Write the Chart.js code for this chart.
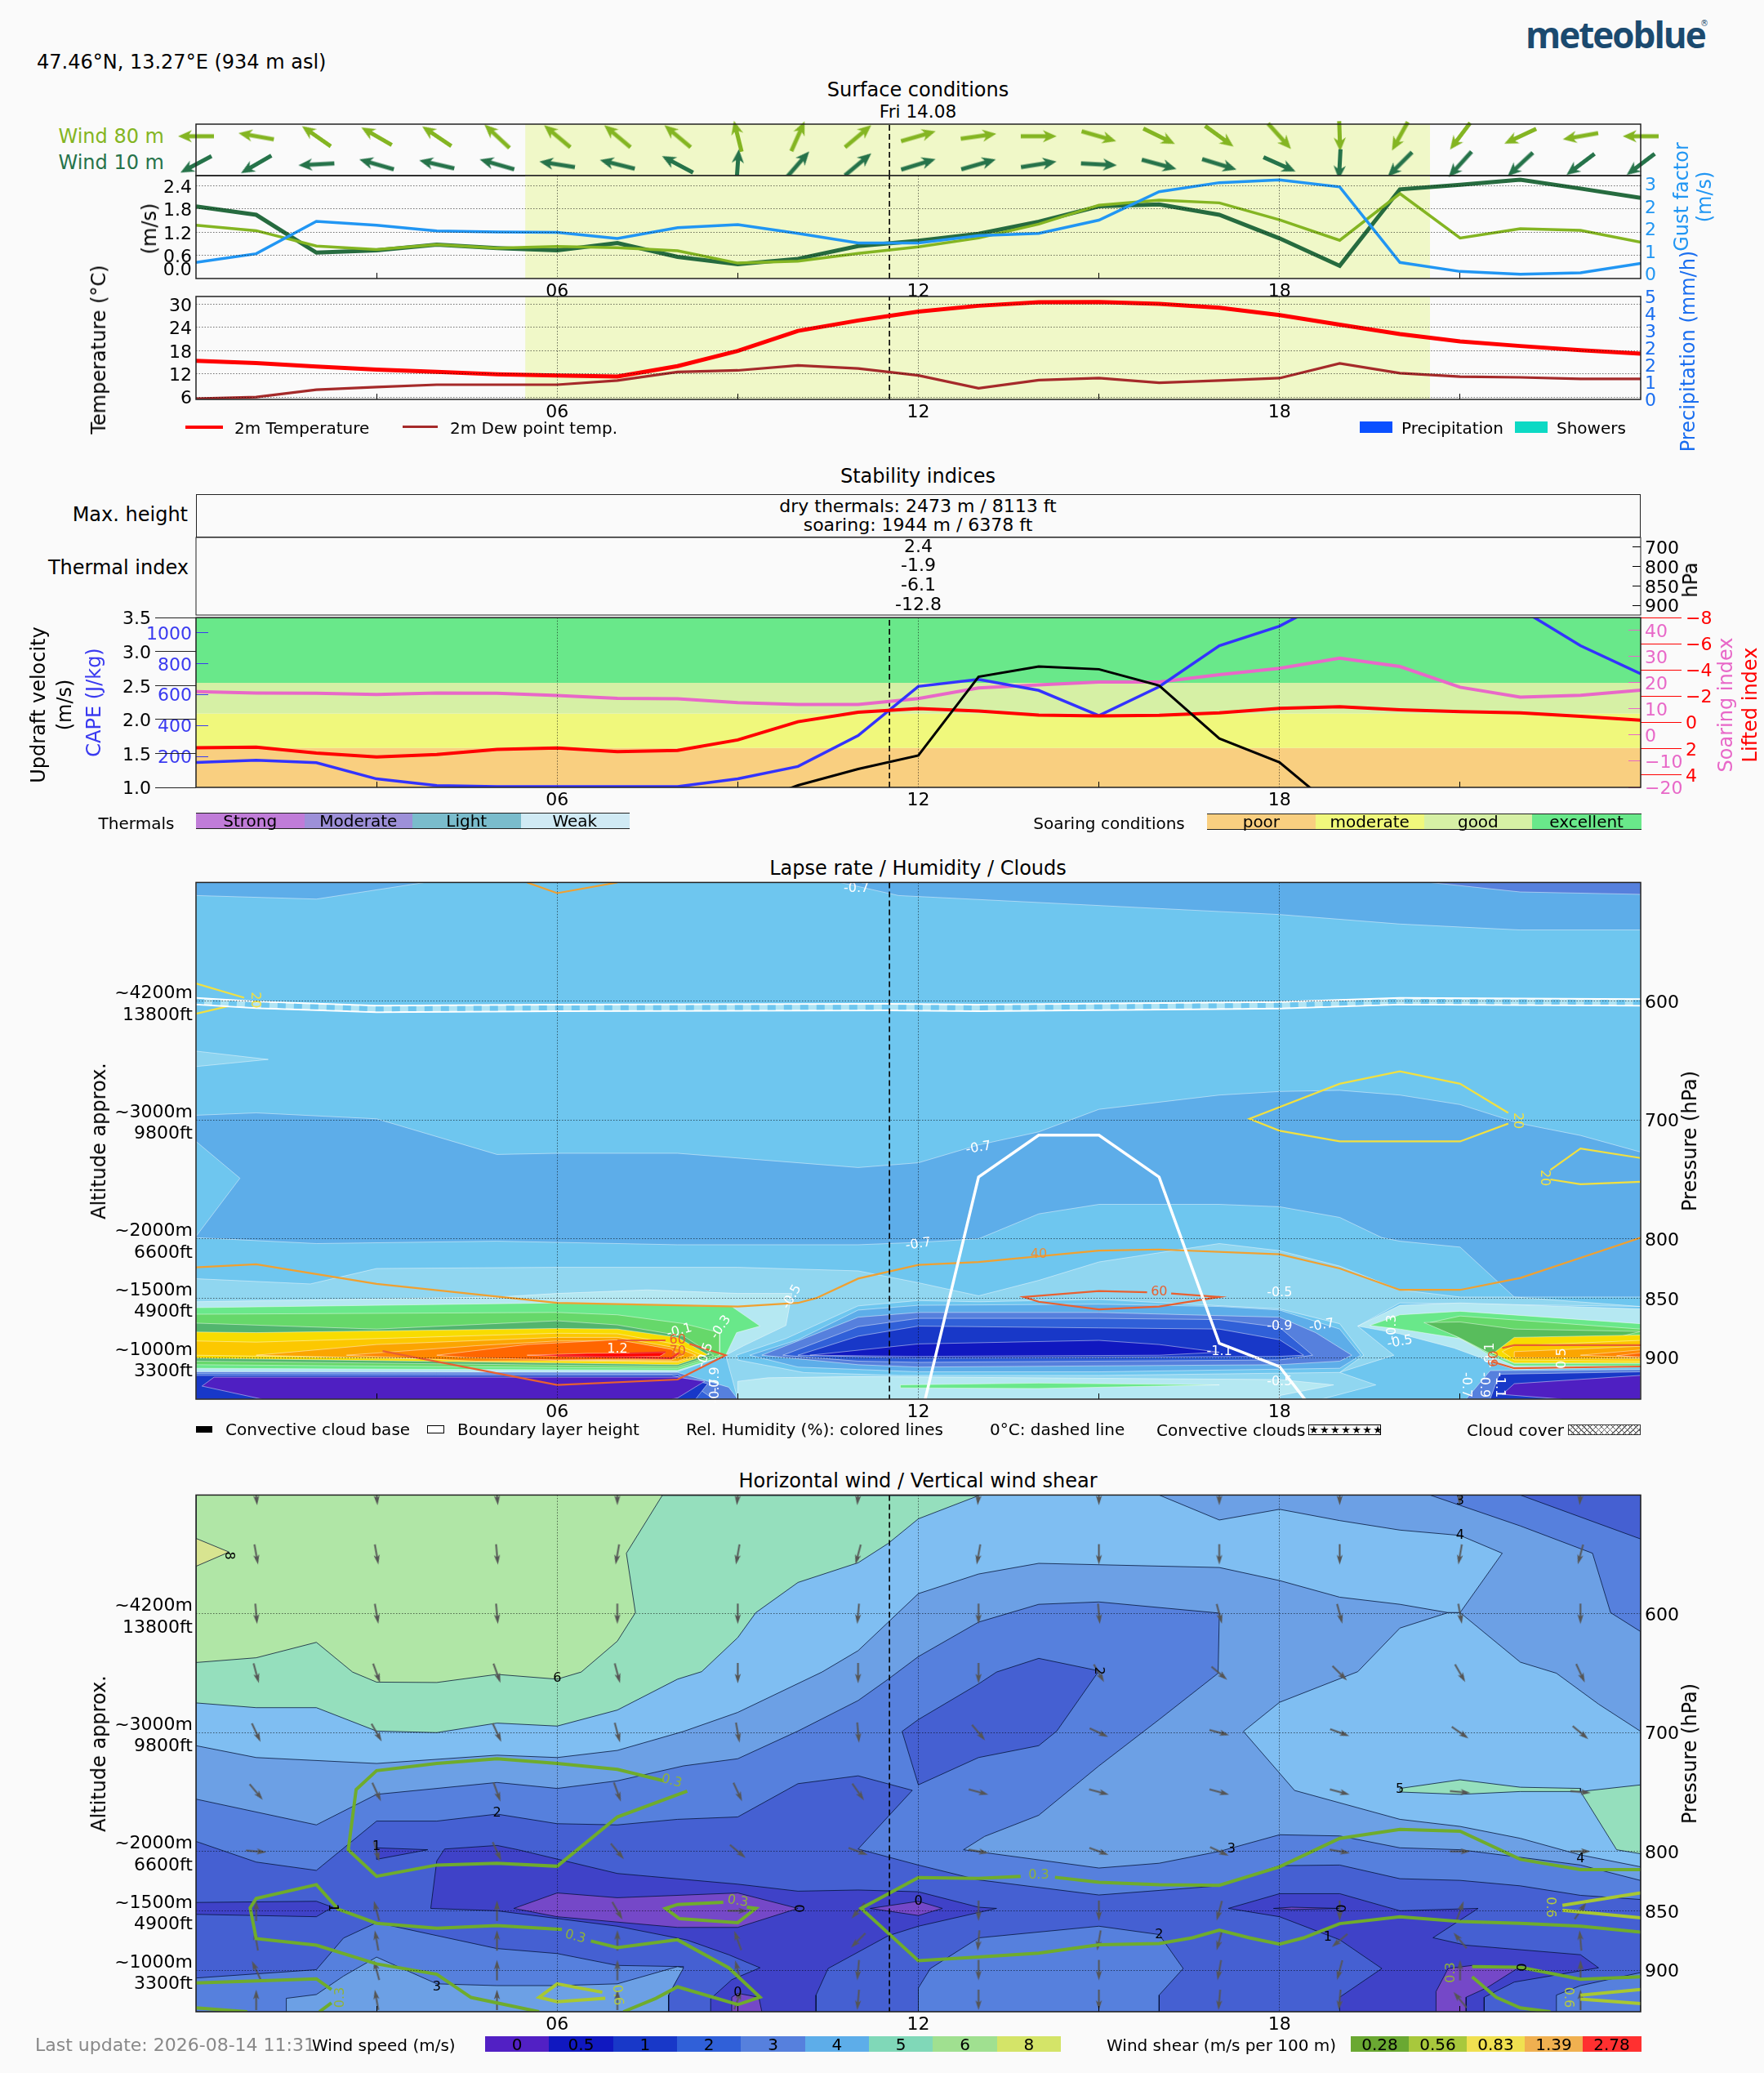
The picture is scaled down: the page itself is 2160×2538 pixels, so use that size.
<!DOCTYPE html>
<html>
<head>
<meta charset="utf-8">
<title>meteoblue</title>
<script src="https://cdn.jsdelivr.net/npm/chart.js@4"></script>
<style>
html, body { margin: 0; padding: 0; background: #fafafa; }
#page { position: relative; width: 2160px; height: 2538px; overflow: hidden; font-family: "DejaVu Sans", sans-serif; color: #000; }
canvas { position: absolute; left: 0; }
.t { position: absolute; white-space: nowrap; line-height: 1; }
.b { position: absolute; box-sizing: border-box; }
</style>
</head>
<body>
<div id="page"></div>
<script>
// ── Surface conditions ───────────────────────
const hours = [0,1,2,3,4,5,6,7,8,9,10,11,12,13,14,15,16,17,18,19,20,21,22,23,24];
const nowHour = 11.52;
const sunHours = [5.47, 20.5];
const wind80Dir = [270,280,305,300,304,313,310,310,310,346,24,50,74,82,90,106,116,126,138,178,209,217,245,260,270];
const wind10Dir = [242,240,267,286,283,286,279,284,298,4,41,50,73,74,81,93,105,107,114,183,225,222,227,233,233];
const wind10Speed = [1.87,1.65,0.67,0.73,0.88,0.79,0.73,0.92,0.56,0.37,0.51,0.84,0.98,1.16,1.47,1.87,1.92,1.65,1.04,0.33,2.31,2.43,2.56,2.33,2.09];
const wind80Speed = [1.38,1.24,0.84,0.75,0.88,0.79,0.83,0.80,0.72,0.40,0.45,0.65,0.82,1.05,1.41,1.90,2.03,1.96,1.52,0.99,2.20,1.05,1.29,1.25,0.94];
const gustFactor = [0.40,0.71,1.86,1.72,1.52,1.48,1.47,1.25,1.63,1.74,1.43,1.09,1.09,1.35,1.43,1.90,2.91,3.23,3.33,3.08,0.40,0.08,-0.02,0.03,0.37];
const temp2m = [15.4,14.8,13.9,13.1,12.5,11.9,11.6,11.3,14.0,17.95,23.1,25.8,28.1,29.6,30.5,30.6,30.1,29.1,27.2,24.7,22.3,20.4,19.2,18.1,17.2];
const dewPoint = [5.6,6.0,7.9,8.6,9.2,9.2,9.2,10.3,12.5,12.9,14.2,13.4,11.6,8.3,10.4,10.9,9.7,10.3,10.9,14.7,12.2,11.3,11.1,10.7,10.7];
const windTicks = [0.6,1.2,1.8,2.4];
const gustTicks = [0,0.8,1.6,2.4,3.2];
const gustTickLabels = ['0','1','2','2','3'];
const tempTicks = [6,12,18,24,30];
const precipTicks = [0,0.833,1.667,2.5,3.333,4.167,5];
const precipTickLabels = ['0','1','2','2','3','4','5'];

// ── Stability indices ────────────────────────
const thermalLevels = ['700','800','850','900'];
const thermalIndex = ['2.4','-1.9','-6.1','-12.8'];
const soaringLimits = [1.0,1.58,2.09,2.54,3.5];
const updraft = [null,null,null,null,null,null,null,null,null,0.7,1.03,1.27,1.47,2.63,2.78,2.74,2.5,1.72,1.37,0.63,null,null,null,null,null];
const cape = [161,175,159,55,12,5,5,5,5,55,135,335,652,698,626,464,650,915,1041,1246,1400,1350,1152,915,733];
const liftedIndex = [1.95,1.91,2.36,2.65,2.46,2.07,1.97,2.24,2.15,1.35,-0.04,-0.76,-1.05,-0.86,-0.55,-0.49,-0.53,-0.72,-1.07,-1.19,-0.96,-0.82,-0.72,-0.45,-0.16];
const soaringIndex = [16.6,16.1,16,15.5,16.1,16,15.1,14.05,13.85,12.4,11.7,11.7,13.95,18.05,19.2,20.3,20.3,23.1,25.5,29.4,26.2,18.3,14.5,15.2,17.2];
const capeTicks = [200,400,600,800,1000];
const soaringTicks = [-20,-10,0,10,20,30,40];
const liftedTicks = [-8,-6,-4,-2,0,2,4];

// ── Pressure axes ────────────────────────────
const pressureTicks = [600,700,800,850,900];
const altitudeLabels = [['~4200m','13800ft'],['~3000m','9800ft'],['~2000m','6600ft'],['~1500m','4900ft'],['~1000m','3300ft']];

// ── Lapse rate contours [hour, hPa] ──────────
const lapseBase = [[0,500],[24,500],[24,935],[0,935]];
const lapseTopA = [[0,500],[0,511],[2,514],[3.8,500]];
const lapseTopB = [[10.7,500],[11.67,511],[18,527],[20,535],[22,540],[24,540],[24,500]];
const lapseTopC = [[20.5,500],[22,508],[24,510],[24,500]];
const lapseMid = [[0,696],[1,694],[3,699],[5,729],[6,728],[8,728],[11,740],[12,736],[13,721],[14,710],[15,691],[16,685],[17,679],[18,676],[19,675],[20,679],[21,687],[22,703],[23,713],[24,727],[24,849],[21.9,849],[21,807],[20,802],[19.7,799],[19,782],[18,773],[17,771],[15,771],[14,779],[13,800],[12,803],[11,805],[8,805],[5,802],[2,804],[0,799]];
const lapseNotch = [[0,718],[0.73,749],[0,798]];
const lapseSliver = [[0,642],[1.2,649],[0,655]];
const lapseBand = [[0,833.6],[1.9,838],[3,825],[6,824],[9,824],[11,827],[11.5,832],[12,837],[13,848],[14,835],[15,819.5],[17,804],[18,810],[19,823],[20,843],[21,849],[21.9,849],[24,857],[20,854],[19.3,873.5],[19.9,898],[19,912.5],[19.6,923],[18.7,935],[9,935],[8.8,898],[0,898]];
const lapseLeftPale = [[0,853],[5,849],[6,846],[7.5,843],[9,846],[9.9,846],[9.8,873],[9.1,890],[8.8,898],[8,912],[0,912]];
const lapseLeftG1 = [[0,858],[6,854],[8.9,857],[9.37,873.5],[8.98,879],[8.8,898],[8,910.7],[0,909]];
const lapseLeftG2 = [[0,863.5],[6,862],[7,864],[8.1,871.4],[8.7,879],[8.7,898],[8,909],[0,906]];
const lapseLeftG3 = [[0,871],[3,876],[6,869],[7,872.5],[8.1,882],[8.6,898],[8,907.5],[0,903]];
const lapseLeftY1 = [[0,878.5],[1,879],[6,875.5],[7,876],[8,883],[8.5,897.5],[8,906],[0,900.5]];
const lapseLeftY2 = [[0,886],[1,887],[6,879.5],[7,880],[8,889],[8.4,898],[8,904],[0,898]];
const lapseLeftO1 = [[1,898],[3,889],[6,883],[7,883],[8,892],[8.3,898],[8,903],[3,900.5]];
const lapseLeftO2 = [[2.5,898],[4.65,890],[6,886],[7,886],[7.85,893],[8.1,898],[7.9,902],[4.65,903]];
const lapseLeftO3 = [[4,898],[5.5,889],[7,885],[7.9,893],[8,898],[7.9,901],[6,902],[4.5,900]];
const lapseLeftRed = [[5.5,898],[6.5,896.5],[7.8,896],[7.7,899],[6.5,899.5]];
const lapseBotD1 = [[0,912],[8,912.5],[8.85,925],[9,935],[0,935]];
const lapseBotD2 = [[0,913.5],[8,914],[8.6,935],[0,935]];
const lapseBotD3 = [[0,915],[7.9,915],[8.5,922],[8.3,935],[0,935]];
const lapseBotP = [[0.1,924],[0.3,916.5],[8,916.5],[8.45,920],[8,934],[7.9,935],[1.1,935]];
const lens2 = [[8.98,898],[9.8,884],[11,856.5],[12,852],[13,853],[15,851],[18,859],[19,871.5],[19.4,898],[19,912.5],[15,915],[11.7,915],[10.1,912.6],[9,902]];
const lens3 = [[9.2,898],[10,885],[11,860],[12,856],[15,855],[17,857],[18,860],[19,876],[19.35,898],[19,909],[15,912],[12,912],[11,910],[10,908]];
const lens4 = [[9.4,898],[11,866],[12,862],[15,862],[18,866],[18.6,879],[19.2,898],[19,903],[18,906],[12,908],[11,906]];
const lens5 = [[9.75,898],[11,874],[12,867],[15,867],[17,868],[18,874.5],[18.55,898],[18,902],[12,904],[11,903]];
const lens6 = [[10,898],[11,882],[12,873.5],[15,875],[17,876],[18,885],[18.4,898],[18,899],[12,900.5]];
const lens7 = [[10.2,898],[12,888.5],[15,885.5],[16,889],[17,895.5],[16,898],[12,899]];
const lapsePatch = [[9,920],[9.5,917],[11,916],[18,918.5],[18.9,923],[18,932],[18,935],[9,935]];
const lapseStrip = [[11.7,923],[14,921.5],[17,923],[14,926],[11.7,925.5]];
const rightPale = [[19.3,873.5],[20,856],[21,854],[24,859],[24,908],[21.9,910],[21.6,905],[20.9,892],[20,880]];
const rightG1 = [[19.5,873],[20,864],[21,861],[24,871.5],[24,907],[21.9,907],[21.5,898],[21,884],[20,876]];
const rightG2 = [[20.5,870.5],[21,865],[24,876],[24,905],[21.9,905],[21.55,898],[21,884]];
const rightG3 = [[20.4,870.5],[21,870],[21.9,876],[24,878],[21.9,904],[21.55,898],[21,883.5]];
const rightY1 = [[21.55,896.5],[21.9,883],[24,881],[24,904.5],[21.9,904.5]];
const rightY2 = [[21.7,895],[21.9,890],[24,885.5],[24,903],[21.9,902]];
const rightO1 = [[21.9,895],[24,890.5],[24,901],[21.9,900]];
const rightO2 = [[23,898],[24,893.5],[24,900]];
const rightO3 = [[23.6,898.5],[24,896],[24,899.5]];
const rightBotD1 = [[21.5,911],[24,910],[24,935],[21.1,935]];
const rightBotD2 = [[21.65,914],[24,912],[24,935],[21.5,935]];
const rightBotP = [[21.7,931],[21.9,922],[24,915],[24,935],[22.7,935]];

// ── Relative humidity lines [hour, hPa] ──────
const rh40Main = [[0,824],[1,821.5],[3,838],[6,854],[9,857],[10,854],[10.3,850],[11,833.5],[12,822],[13,819.5],[15,810],[16,809],[18,813],[19,825],[20,843],[21,843],[22,833],[23,816],[24,799]];
const rh40Top = [[5.5,500],[6,509],[7,500]];
const rh20Right = [[21.8,694],[21,669.5],[20,659],[19,669.5],[17.5,699],[18,709],[19,718],[21,718],[21.8,703]];
const rh20Edge = [[24,732],[23,724],[22.5,742]];
const rh20Edge2 = [[22.5,750],[23,754],[24,752]];
const rh20Left = [[0,585],[0.8,597]];
const rh20Left2 = [[0,610.5],[0.55,604]];
const rh60Mid = [[15.8,845],[15,844],[13.75,849],[14,853],[15,859.5],[16,857],[17,849],[16.2,846]];
const rh60Left = [[3.1,894.5],[6,923],[8,918.5],[8.8,898],[8.2,888.5]];
const rh60LeftTop = [[7,885.5],[7.8,885.5]];
const rh70Left = [[6,898.5],[7.9,900.5],[8.02,896]];
const rh70Left2 = [[7.2,896.5],[7.8,895.5]];
const rh60Right = [[24,889.5],[21.9,889.5],[21.7,892]];
const rh60Right2 = [[21.5,903],[21.9,909],[24,907.5]];
const freezingLevel = [[0,600],[1,603],[3,606.5],[6,605.6],[11.5,605],[13,605.6],[18,603.4],[20,600],[24,601]];
const boundaryLayer = [[12,959],[13,748],[14,712.7],[15,712.7],[16,748],[17,888],[18,907.6],[19,973]];

const lapseWhiteLabels = [[10.97,505,'-0.7',0],[13,723.6,'-0.7',-10],[12,804.7,'-0.7',-8],[9.9,849,'-0.5',-60],[8.72,874.5,'-0.3',-55],[8.03,877.7,'-0.1',-15],[7,893,'1.2',0],[8.46,898,'-0.5',-70],[8.63,918.5,'-0.9',-90],[8.63,928,'-0.7',-90],[18,845.6,'-0.5',0],[18,873.8,'-0.9',0],[18.7,873,'-0.7',-10],[17,895,'-1.1',0],[18,920.5,'-0.5',0],[20,887,'-0.5',-10],[19.88,874.5,'-0.3',-90],[22.7,900.7,'0.5',-90],[21.5,898,'-0.1',-90],[21.1,923,'-0.7',90],[21.4,923,'-0.9',90],[21.66,923,'-1.1',90]];
const lapseRh40Labels = [[14,813,'40',0]];
const lapseRh60Labels = [[16,844.6,'60',0],[8,885.5,'60',0],[8,895,'70',0],[21.57,901,'60',-90]];
const lapseRh20Labels = [[21.96,700.6,'20',90],[22.4,748.7,'20',90],[0.98,599,'20',90]];

// ── Wind speed contours [hour, hPa] ──────────
const shearBase = [[0,500],[24,500],[24,935],[0,935]];
const speed4Top = [[0,500],[0,711],[1,721],[3,726],[5,719],[6,721],[7,715],[8.1,699],[9,683],[10.4,649],[11,631],[12,583],[13,566.5],[14,557.5],[17,561],[18,572],[19,586],[20,592],[20.8,599],[21,599],[21.7,549],[21,534],[20,529.5],[19,521.5],[18,512],[17,521],[16,500]];
const speed4Right = [[20.8,599],[21,599],[22,640.7],[22.6,650],[23.3,676],[24,699],[24,813],[23,803],[22,789],[21,779],[20,773],[18.25,748.7],[17.4,699],[18,674.5],[19.3,648.7],[20,612]];
const speed5Top = [[0,500],[0,675],[1,679],[2,679],[3,698.7],[4,700],[5,692],[6,694.5],[7,681],[8,655],[8.4,648.7],[9,620],[9.3,599],[10,573.6],[11,557],[11.5,540.7],[12,520],[13,500.5]];
const speed5Right = [[23,749.6],[24,744],[24,802],[23.6,798.6]];
const speed5Strip = [[20,747],[21,739.7],[22,746],[23,747],[23,749.6],[22,749.6],[21,752],[20,750]];
const speed6Top = [[0,500],[0,641],[1,637],[2,624],[2.6,649],[3,657.5],[4,657.8],[5,651],[6,655],[6.4,649],[7,623],[7.3,599],[7.15,549],[7.75,500]];
const speed8Top = [[0,536.5],[0.55,548],[0,560]];
const speed2Corner = [[20.5,500],[22,526],[23.2,549],[23.5,599],[24,615],[24,500]];
const speed1Corner = [[22,500],[24,537],[24,500]];
const speed2Low = [[0,756],[2,777.7],[3,752],[5,742],[6,747],[7,740.6],[8.1,728],[9,722],[10,698.7],[11,673],[11.5,655],[12,636],[13,607],[14,592],[15,590],[17,599.4],[16.98,650],[16,689],[15,728],[14,769.6],[13.1,787.4],[12.75,798.6],[15,814],[16,810],[17,800],[18,786],[19,787],[20,797],[21,798.6],[22,805],[23,811.5],[24,824.5],[24,935],[0,935]];
const speed1Blob = [[11.73,699],[12,689],[13,659],[13.3,649],[14,637.5],[15,648],[14.3,698.7],[14,711],[13,721],[12,744]];
const speed1Low = [[0,791.6],[1,809],[2,816],[3,774.5],[4,774.5],[5,768.6],[6,776.7],[7,777.7],[8,773],[9,771],[10,743],[11,736.4],[11.9,748.6],[11,798],[12,811.5],[13,824],[15,836.7],[17,829],[18,812],[19,811.5],[20,823],[21,824.4],[22,829],[23,837],[24,840.5],[24,935],[0,935]];
const speed2LowLeft = [[0,906.6],[2,899.6],[2.45,873],[3,860],[5,881.8],[6,886],[7,896],[8.1,897],[7.85,921],[7.85,935],[0,935]];
const speed3LowLeft = [[1.5,935],[1.5,923.7],[2,920.5],[2.45,905],[3,889],[4,911.5],[5,913],[6,913],[7,911.5],[8,897],[8.1,898],[7.85,921],[7.85,935]];
const speed2Center = [[12,935],[12,915],[12.2,898.6],[13,872.8],[15,863],[16,870],[16.4,898.6],[16,921],[16,935]];
const speed2Corner2 = [[22.6,935],[22.6,921],[23,913],[24,902],[24,935]];
const speed05Left = [[0,843],[2,842],[2.27,847],[2,855],[0,853]];
const speed05Small = [[3,797],[3.85,798.6],[3,806.7]];
const speed05Mid = [[4.13,798],[5,795],[5.35,798.6],[7,818.6],[9,827.6],[10,833.5],[11,832.5],[12,834],[13,847],[13.3,848],[12,863],[11.5,871],[10.5,898.6],[10.3,921],[10.3,935],[8.55,935],[8.55,924],[8.9,908],[9.37,898],[8.85,887],[8.15,874.5],[7,863],[5,850],[3.9,848],[4,808]];
const speed05Right = [[17.15,848],[18,835.6],[19,835.6],[20,850],[21.3,848],[20.55,872.7],[21.1,879],[23,887],[23.3,898],[21.9,910],[21.4,922.8],[21.4,935],[19,935],[19,922.8],[19.7,898.6],[19,874.4],[18,855]];
const speed0Mid = [[5.28,848],[6,835],[7,839],[9,835],[10,848],[9,864],[8,864],[6,855]];
const speed0Small = [[11.2,848],[12,842],[12.4,848],[12,854]];
const speed0Thin = [[17.9,848],[18.2,847],[19,848],[18.2,849]];
const speed0Bottom = [[8.9,922.8],[9,919.5],[9.35,922.8],[9.4,935],[8.9,935]];
const speed0Right = [[20.8,898.6],[21.2,896],[22,897],[21.45,914.7],[21.1,922.8],[21.1,935],[20.6,935],[20.6,918]];

// ── Wind shear lines [hour, hPa] ─────────────
const shearA = [[7.77,740.6],[7,731],[6,726],[5,722],[4,726],[3,732],[2.66,748],[2.53,798.6],[3,821],[4,811.5],[5,810],[6,812.5],[7,771],[8.16,749.3]];
const shearB = [[6.08,865.7],[5,862.5],[4,864.7],[3,860.5],[2.36,848.6],[2,828],[1,839.6],[0.9,847.6],[1,873.4],[2,879],[3,894.7],[4,903.4],[4.57,923],[5.7,935]];
const shearB2 = [[6.56,875.4],[7,881],[8,874.4],[8.85,898],[9.37,922.8],[9,929],[8,914],[7.64,923.7],[7.1,935]];
const shearC = [[8.76,842.8],[8,844.7],[7.8,848],[8.03,856.6],[9,860],[9.3,848],[9.15,847]];
const shearD = [[0,910.8],[2,907.3],[2.25,916.3]];
const shearD2 = [[0,931.7],[0.85,935]];
const shearD3 = [[2.05,935],[2.25,927.6]];
const shearE = [[13.7,821],[13,822.8],[12,822],[11.05,848],[12,892],[13,889],[14,885.7],[15,878.6],[16,877.6],[16.55,872.8],[17,866.3],[17.5,872.8],[18,878],[18.4,872.8],[19,860.8],[20,855],[21,859],[22,860.5],[23,863],[24,868]];
const shearE2 = [[14.27,821.8],[15,826],[16,828],[17,828.6],[18,813],[18.6,798.6],[19,789],[20,781.5],[21,783],[22,806.7],[23,815.4],[24,815.4]];
const shearF = [[21.2,897],[22,897.6],[23,907.6],[24,905.6]];
const shearG = [[21.2,905.6],[21.6,922.8],[22,931.8],[22.5,935]];
const shear06A = [[6.75,918.6],[6,911.5],[5.7,922.8],[6,926.6],[6.8,923.7]];
const shear06B = [[22.7,845.4],[24,835]];
const shear06C = [[22.7,849.6],[24,856]];
const shear06D = [[23,921],[24,916.3]];
const shear06E = [[23,924.4],[24,928.2]];

const speedLabels = [[6,654.5,'6',0],[5,768,'2',0],[0.55,551,'8',90],[3,796,'1',0],[2.27,847.5,'1',90],[4,914.6,'3',0],[10,848,'0',90],[12,842,'0',0],[9,919,'0',0],[21,505,'3',0],[21,534,'4',0],[15,648,'2',90],[17.2,798,'3',0],[20,748,'5',0],[23,806,'4',0],[19,848,'0',90],[16,870.5,'2',0],[18.8,872,'1',0],[22,897.6,'0',90]];
const shear03Labels = [[7.9,741,'0.3',15],[6.3,872,'0.3',15],[9,842,'0.3',10],[2.4,923,'0.3',-90],[14,820,'0.3',0],[20.85,902,'0.3',-90]];
const shear06Labels = [[22.5,847,'0.6',90],[22.8,923,'0.6',90],[7,921,'0.6',85]];

// ── Wind arrows aloft, bearing in degrees ────
const arrowHours = [1,3,5,7,9,11,13,15,17,19,21,23];
const arrowLevels = [500,550,600,650,700,750,800,850,875,900,925];
const dir500 = [175,175,175,180,185,185,185,180,180,180,185,185];
const dir550 = [170,170,175,190,190,195,190,180,180,180,190,195];
const dir600 = [175,170,175,180,180,185,180,175,165,165,170,180];
const dir650 = [165,160,160,165,180,180,180,150,130,135,150,155];
const dir700 = [155,150,155,165,170,175,140,115,105,110,125,130];
const dir750 = [140,155,160,160,155,145,105,105,105,105,95,95];
const dir800 = [95,165,155,140,130,110,100,110,115,100,90,90];
const dir850 = [0,345,0,150,90,220,180,180,195,180,20,35];
const dir875 = [350,350,0,0,340,225,185,190,195,230,320,355];
const dir900 = [335,345,0,0,345,185,180,180,190,195,0,0];
const dir925 = [0,350,0,0,20,185,180,180,185,185,320,0];
const arrowDirs = [dir500,dir550,dir600,dir650,dir700,dir750,dir800,dir850,dir875,dir900,dir925];

// ── Légendes ─────────────────────────────────
const thermalClasses = ['Strong','Moderate','Light','Weak'];
const soaringClasses = ['poor','moderate','good','excellent'];
const speedClasses = ['0','0.5','1','2','3','4','5','6','8'];
const shearClasses = ['0.28','0.56','0.83','1.39','2.78'];

Chart.defaults.font.family = '"DejaVu Sans", sans-serif';
Chart.defaults.font.size = 22;
Chart.defaults.color = '#000';

const page = document.getElementById('page');
const PLOT_LEFT = 240, PLOT_RIGHT = 2009, MARGIN_TOP = 30, MARGIN_BOTTOM = 40;
const GRID = 'rgba(0,0,0,0.55)';
const MAJOR = [6, 12, 18];

function text(str, x, y, opts = {}) {
    const el = document.createElement('div');
    el.className = 't';
    el.textContent = str;
    const shift = opts.align === 'left' ? '0' : opts.align === 'right' ? '-100%' : '-50%';
    el.style.cssText = `left:${x}px;top:${y}px;font-size:${opts.size || 22}px;color:${opts.color || '#000'};` +
        `transform:translate(${shift},-50%) rotate(${opts.rot || 0}deg);${opts.css || ''}`;
    page.appendChild(el);
    return el;
}

function box(x, y, w, h, css) {
    const el = document.createElement('div');
    el.className = 'b';
    el.style.cssText = `left:${x}px;top:${y}px;width:${w}px;height:${h}px;${css}`;
    page.appendChild(el);
    return el;
}

function pts(xs, ys) { return xs.map((x, i) => ({ x, y: ys[i] })); }
function toPts(list) { return list.map(([x, y]) => ({ x, y })); }

function area(list, color, border, yAxisID = 'y') {
    const closed = toPts(list.concat([list[0]]));
    return { data: closed, showLine: true, fill: 'shape', backgroundColor: color, borderColor: border || 'transparent',
        borderWidth: border ? 1 : 0, pointRadius: 0, yAxisID };
}

function curve(data, color, width, yAxisID = 'y', extra = {}) {
    return { data, showLine: true, fill: false, borderColor: color, borderWidth: width, pointRadius: 0, yAxisID,
        borderJoinStyle: 'miter', ...extra };
}

function nowLine(y0, y1, yAxisID = 'y') {
    return curve(pts([nowHour, nowHour], [y0, y1]), '#000', 1.6, yAxisID, { borderDash: [7, 4] });
}

function sunBand(y0, y1, yAxisID = 'y') {
    return area([[sunHours[0], y0], [sunHours[1], y0], [sunHours[1], y1], [sunHours[0], y1]], '#f0f8c8', null, yAxisID);
}

// Flèche dessinée vers le haut, la rotation du point donne le cap
const spriteCache = {};
function arrowSprite(len, shaft, headW, headL, color) {
    const key = [len, shaft, headW, headL, color].join();
    if (spriteCache[key]) return spriteCache[key];
    const c = document.createElement('canvas');
    c.width = c.height = Math.ceil(len + 4);
    const g = c.getContext('2d');
    const m = c.width / 2, top = m - len / 2, bottom = m + len / 2;
    g.fillStyle = color;
    g.beginPath();
    g.moveTo(m - shaft / 2, bottom);
    g.lineTo(m - shaft / 2, top + headL * 0.8);
    g.lineTo(m - headW / 2, top + headL);
    g.lineTo(m, top);
    g.lineTo(m + headW / 2, top + headL);
    g.lineTo(m + shaft / 2, top + headL * 0.8);
    g.lineTo(m + shaft / 2, bottom);
    g.closePath();
    g.fill();
    spriteCache[key] = c;
    return c;
}

function xScales(withTicks) {
    const scales = {
        x: {
            type: 'linear', min: 0, max: 24, afterFit: (s) => { s.height = 0; },
            afterBuildTicks: (s) => { s.ticks = hours.filter((h) => h % 3 === 0).map((value) => ({ value })); },
            ticks: { display: withTicks, padding: 3, maxRotation: 0, autoSkip: false,
                callback: (v) => (MAJOR.includes(v) ? String(v).padStart(2, '0') : '') },
            grid: { z: 1, drawTicks: false, lineWidth: 1,
                color: (c) => (withTicks && c.tick && MAJOR.includes(c.tick.value) ? GRID : 'transparent') },
            border: { display: false, dash: [1.5, 2] },
        },
    };
    if (withTicks) {
        scales.xMinor = {
            type: 'linear', position: 'bottom', min: 0, max: 24, afterFit: (s) => { s.height = 0; },
            afterBuildTicks: (s) => { s.ticks = [3, 9, 15, 21].map((value) => ({ value })); },
            ticks: { display: false },
            grid: { z: 1, drawOnChartArea: false, tickLength: -7, tickColor: '#000', tickWidth: 1 },
            border: { display: false },
        };
    }
    return scales;
}

// Axe vertical de largeur nulle : sa boîte réelle est posée par le plugin après la mise en page
function yScale(position, min, max, tickValues, opts = {}) {
    return {
        type: 'linear', position, min, max, reverse: !!opts.reverse,
        afterFit: (s) => { s.width = 0; },
        afterBuildTicks: (s) => { s.ticks = tickValues.map((value) => ({ value })); },
        ticks: { autoSkip: false, padding: opts.padding === undefined ? 5 : opts.padding, color: opts.color || '#000',
            labelOffset: opts.labelOffset === undefined ? 2.5 : opts.labelOffset,
            callback: opts.label || ((v) => String(v).replace('-', '\u2212')), font: opts.font },
        grid: { z: 1, drawOnChartArea: !!opts.lines, drawTicks: !!opts.tickLength, tickLength: opts.tickLength || 0,
            tickColor: opts.tickColor || '#000', tickWidth: 1, color: GRID, lineWidth: 1 },
        border: { display: false, dash: opts.lines ? [1.5, 2] : [] },
    };
}

function panel(top, bottom, scales, datasets, boxes, marks, frame = 1.5) {
    const canvas = document.createElement('canvas');
    const height = Math.round(bottom - top) + MARGIN_TOP + MARGIN_BOTTOM;
    canvas.width = 2160;
    canvas.height = height;
    canvas.style.top = (Math.round(top) - MARGIN_TOP) + 'px';
    page.appendChild(canvas);
    const total = datasets.length;
    datasets.forEach((d, i) => { d.order = total - i; });
    return new Chart(canvas, {
        type: 'scatter',
        data: { datasets },
        options: {
            responsive: false, animation: false, devicePixelRatio: 1, events: [],
            layout: { autoPadding: false, padding: { left: PLOT_LEFT, right: 2160 - PLOT_RIGHT, top: MARGIN_TOP, bottom: MARGIN_BOTTOM } },
            plugins: { legend: { display: false }, title: { display: false }, tooltip: { enabled: false } },
            scales,
        },
        plugins: [{
            id: 'axisBoxes',
            afterLayout(chart) {
                const a = chart.chartArea;
                for (const [id, s] of Object.entries(chart.scales)) {
                    if (s.isHorizontal()) { s.top = a.bottom; s.bottom = a.bottom + MARGIN_BOTTOM; s.height = MARGIN_BOTTOM; }
                    else if (boxes[id]) { s.left = boxes[id][0]; s.right = boxes[id][1]; s.width = s.right - s.left; }
                }
            },
            afterDatasetsDraw(chart) {
                const g = chart.ctx;
                for (const group of marks || []) {
                    const yS = chart.scales[group.axis || 'y'];
                    for (const [h, v, str, rot] of group.list) {
                        g.save();
                        g.translate(chart.scales.x.getPixelForValue(h), yS.getPixelForValue(v));
                        g.rotate((rot || 0) * Math.PI / 180);
                        g.font = `${group.size || 16}px "DejaVu Sans", sans-serif`;
                        g.fillStyle = group.color;
                        g.textAlign = group.align || 'center';
                        g.textBaseline = 'middle';
                        g.fillText(str, 0, 0);
                        g.restore();
                    }
                }
            },
            afterDraw(chart) {
                const a = chart.chartArea;
                const g = chart.ctx;
                g.save();
                g.strokeStyle = '#222';
                g.lineWidth = frame;
                g.strokeRect(a.left, a.top, a.width, a.height);
                g.restore();
            },
        }],
    });
}

// ── En-tête ──────────────────────────────────
text('47.46°N, 13.27°E (934 m asl)', 45, 76, { align: 'left', size: 24 });
text('meteoblue', 1868, 42, { align: 'left', size: 44, color: '#1b4a6f', css: 'font-family:"Open Sans",sans-serif;font-weight:700;letter-spacing:-2px;' });
text('®', 2082, 29, { align: 'left', size: 10, color: '#1b4a6f' });

// ── Surface conditions ───────────────────────
text('Surface conditions', 1124, 110, { size: 24 });
text('Fri 14.08', 1124, 137, { size: 21.6 });
text('Wind 80 m', 201, 167, { align: 'right', size: 24, color: '#84b522' });
text('Wind 10 m', 201, 199, { align: 'right', size: 24, color: '#26734a' });

function windRow(dirs, y, color) {
    const sprite = (ctx) => {
        const b = dirs[ctx.dataIndex] * Math.PI / 180;
        return arrowSprite(Math.round(37 + 7 * Math.abs(Math.sin(b))), 5, 15, 17, color);
    };
    return { data: hours.map((x) => ({ x, y })), showLine: false, clip: false, pointRadius: 2, pointBorderWidth: 0,
        pointStyle: sprite, rotation: (ctx) => dirs[ctx.dataIndex] };
}

panel(152, 215, { ...xScales(false), y: { type: 'linear', display: false, min: 0.6, max: 2.43, afterFit: (s) => { s.width = 0; } } },
    [sunBand(0.6, 2.43), nowLine(0.6, 2.43), windRow(wind80Dir, 2, '#84b522'), windRow(wind10Dir, 1, '#26734a')], {});

panel(215, 341, {
    ...xScales(true),
    y: yScale('left', 0, 2.666, windTicks, { lines: true, label: (v) => v.toFixed(1) }),
    yGust: yScale('right', -0.17, 3.48, gustTicks, { padding: 5, color: '#2196f3', label: (v) => gustTickLabels[gustTicks.indexOf(v)] }),
}, [
    sunBand(0, 2.666), nowLine(0, 2.666),
    curve(pts(hours, wind10Speed), '#266b3f', 5),
    curve(pts(hours, wind80Speed), '#84b522', 3.5),
    curve(pts(hours, gustFactor), '#2196f3', 3.5, 'yGust'),
], { y: [120, 240], yGust: [2009, 2050] }, [{ list: [[-0.07, 0.2, '0.0', 0]], color: '#000', size: 22, align: 'right' }]);

panel(363, 489, {
    ...xScales(true),
    y: yScale('left', 5.4, 32, tempTicks, { lines: true }),
    yPrecip: yScale('right', 0, 5, precipTicks, { color: '#1a6ef0', label: (v) => precipTickLabels[precipTicks.indexOf(v)] }),
}, [
    sunBand(5.4, 32), nowLine(5.4, 32),
    curve(pts(hours, dewPoint), '#a52a2a', 3.2),
    curve(pts(hours, temp2m), '#ff0000', 5),
], { y: [120, 240], yPrecip: [2009, 2050] });

text('(m/s)', 183, 280, { rot: -90, size: 24 });
text('Temperature (°C)', 121, 428, { rot: -90, size: 24 });
text('Gust factor', 2059, 241, { rot: -90, size: 24, color: '#2196f3' });
text('(m/s)', 2087, 241, { rot: -90, size: 24, color: '#2196f3' });
text('Precipitation (mm/h)', 2067, 430, { rot: -90, size: 24, color: '#1a6ef0' });
box(227, 521, 46, 4, 'background:#ff0000;');
text('2m Temperature', 287, 524, { align: 'left', size: 20 });
box(493, 521, 43, 3, 'background:#a52a2a;');
text('2m Dew point temp.', 551, 524, { align: 'left', size: 20 });
box(1665, 516, 40, 14, 'background:#0a50ff;');
text('Precipitation', 1716, 524, { align: 'left', size: 20 });
box(1855, 516, 40, 14, 'background:#0cd9c4;');
text('Showers', 1906, 524, { align: 'left', size: 20 });

// ── Stability indices ────────────────────────
text('Stability indices', 1124, 583, { size: 24 });
box(240, 605, 1769, 53, 'border:1.5px solid #222;');
text('Max. height', 230, 630, { align: 'right', size: 24 });
text('dry thermals: 2473 m / 8113 ft', 1124, 620);
text('soaring: 1944 m / 6378 ft', 1124, 643);
text('Thermal index', 231, 695, { align: 'right', size: 24 });

panel(658, 753, {
    ...xScales(false),
    y: { type: 'linear', display: false, min: -0.5, max: 3.5, reverse: true, afterFit: (s) => { s.width = 0; } },
    yLevel: yScale('right', -0.5, 3.5, [0, 1, 2, 3], { reverse: true, padding: 15, tickLength: -10, label: (v) => thermalLevels[v] }),
}, [curve(pts([0, 24], [0, 0]), 'transparent', 0)], { yLevel: [2009, 2075] },
[{ list: thermalIndex.map((s, i) => [12, i, s, 0]), color: '#000', size: 22 }], 1);
text('hPa', 2070, 710, { rot: -90, size: 24 });

const soaringColors = ['#f9cf80', '#f0f87c', '#d6f0a5', '#69e88a'];
panel(753, 964, {
    ...xScales(true),
    y: yScale('left', 1, 3.5, [1, 1.5, 2, 2.5, 3, 3.5], { tickLength: 50, padding: 5, tickColor: '#222', label: (v) => v.toFixed(1) }),
    yCape: yScale('left', 0, 1096, capeTicks, { tickLength: -15, padding: 20, color: '#3a3af0', tickColor: '#3a3af0' }),
    ySoar: yScale('right', -20, 44.9, soaringTicks, { tickLength: -15, padding: 20, color: '#e868c8', tickColor: '#e868c8' }),
    yLift: yScale('right', -8, 4.98, liftedTicks, { tickLength: 50, padding: 5, reverse: true, color: '#ff0000', tickColor: '#ff0000' }),
}, [
    ...soaringColors.map((c, i) => area([[0, soaringLimits[i]], [24, soaringLimits[i]], [24, soaringLimits[i + 1]], [0, soaringLimits[i + 1]]], c)),
    nowLine(1, 3.5),
    curve(pts(hours, soaringIndex), '#e868c8', 4, 'ySoar'),
    curve(pts(hours, cape), '#3333ff', 3.5, 'yCape'),
    curve(pts(hours, liftedIndex), '#ff0000', 4, 'yLift'),
    curve(pts(hours, updraft), '#000', 3),
], { y: [100, 240], yCape: [150, 240], ySoar: [2009, 2075], yLift: [2009, 2100] }, null, 1.5);

text('Updraft velocity', 47, 863, { rot: -90, size: 24 });
text('(m/s)', 79, 863, { rot: -90, size: 24 });
text('CAPE (J/kg)', 115, 860, { rot: -90, size: 24, color: '#3a3af0' });
text('Soaring index', 2113, 863, { rot: -90, size: 24, color: '#e868c8' });
text('Lifted index', 2143, 863, { rot: -90, size: 24, color: '#ff0000' });

function legendBar(x, y, w, h, labels, colors, size, css = '') {
    const step = w / labels.length;
    labels.forEach((l, i) => {
        box(x + i * step, y, step + 0.5, h, `background:${colors[i]};${css}`);
        text(l, x + (i + 0.5) * step, y + h / 2, { size });
    });
}
text('Thermals', 167, 1008, { size: 20 });
legendBar(240, 995, 530, 20, thermalClasses, ['#c07cd8', '#9d90d8', '#7abccc', '#d0eaf4'], 20, 'border-top:1.5px solid #222;border-bottom:1.5px solid #222;');
text('Soaring conditions', 1358, 1008, { size: 20 });
legendBar(1478, 996, 531, 20, soaringClasses, soaringColors, 20, 'border-top:1.5px solid #222;border-bottom:1.5px solid #222;');

// ── Lapse rate / Humidity / Clouds ───────────
text('Lapse rate / Humidity / Clouds', 1124, 1063, { size: 24 });

function pressureAxes() {
    return {
        y: yScale('left', 500, 935, pressureTicks, { reverse: true, lines: true, padding: 4, labelOffset: 4,
            label: (v) => altitudeLabels[pressureTicks.indexOf(v)] }),
        yP: yScale('right', 500, 935, pressureTicks, { reverse: true, padding: 5 }),
    };
}
const PRESSURE_BOXES = { y: [120, 240], yP: [2009, 2075] };
const LAPSE_EDGE = 'rgba(255,255,255,0.45)';
const lapseFills = [
    [lapseBase, '#6ec6ef'], [lapseTopA, '#5dade9'], [lapseTopB, '#5dade9'], [lapseTopC, '#5680dd'], [lapseMid, '#5dade9'],
    [lapseNotch, '#6ec6ef'], [lapseSliver, '#8dd4f0'], [lapseBand, '#90d6f0'],
    [lapseLeftPale, '#b5e8f2'], [lapseBotD1, '#5680dd'], [lapseBotD2, '#3060d8'], [lapseBotD3, '#1838c8'], [lapseBotP, '#4f1fc2'],
    [lapseLeftG1, '#69e88a'], [lapseLeftG2, '#66d86a'], [lapseLeftG3, '#52b56e'], [lapseLeftY1, '#f8dc00'], [lapseLeftY2, '#fcc800'],
    [lapseLeftO1, '#fba500'], [lapseLeftO2, '#ff8800'], [lapseLeftO3, '#ff6600'], [lapseLeftRed, '#ff0000'],
    [lens2, '#6ec6ef'], [lens3, '#5dade9'], [lens4, '#5680dd'], [lens5, '#3060d8'], [lens6, '#1838c8'], [lens7, '#1018c0'],
    [lapsePatch, '#b5e8f2'], [lapseStrip, '#69e88a'],
    [rightBotD1, '#5680dd'], [rightBotD2, '#1838c8'], [rightBotP, '#4f1fc2'],
    [rightPale, '#b5e8f2'], [rightG1, '#69e88a'], [rightG2, '#66d86a'], [rightG3, '#58bd5c'], [rightY1, '#f8dc00'], [rightY2, '#fcc800'],
    [rightO1, '#fba500'], [rightO2, '#ff8800'], [rightO3, '#ff6600'],
];
const rhLines = [
    [rh40Main, '#f0a030'], [rh40Top, '#f0a030'], [rh20Right, '#f2e040'], [rh20Edge, '#f2e040'], [rh20Edge2, '#f2e040'],
    [rh20Left, '#f2e040'], [rh20Left2, '#f2e040'], [rh60Mid, '#e86030'], [rh60Left, '#e86030'], [rh60LeftTop, '#e86030'],
    [rh70Left, '#f03030'], [rh70Left2, '#f03030'], [rh60Right, '#e86030'], [rh60Right2, '#e86030'],
];
panel(1080, 1713, { ...xScales(true), ...pressureAxes() }, [
    ...lapseFills.map(([p, c]) => area(p, c, LAPSE_EDGE)),
    ...rhLines.map(([p, c]) => curve(toPts(p), c, 2.2)),
    curve(toPts(freezingLevel), '#ffffff', 10),
    curve(toPts(freezingLevel), '#b0e4f4', 6),
    curve(toPts(freezingLevel), '#6ec6ef', 6, 'y', { borderDash: [10, 10] }),
    curve(toPts(boundaryLayer), '#ffffff', 3.5),
    nowLine(500, 935),
], PRESSURE_BOXES, [
    { list: lapseWhiteLabels, color: '#ffffff', size: 16 },
    { list: lapseRh40Labels, color: '#e8903a', size: 16 },
    { list: lapseRh60Labels, color: '#e86030', size: 16 },
    { list: lapseRh20Labels, color: '#f2e040', size: 16 },
]);
text('Altitude approx.', 121, 1397, { rot: -90, size: 24 });
text('Pressure (hPa)', 2069, 1397, { rot: -90, size: 24 });

box(240, 1746, 20, 8, 'background:#000;');
text('Convective cloud base', 276, 1750, { align: 'left', size: 20 });
box(523, 1745, 21, 10, 'background:#fff;border:1px solid #000;');
text('Boundary layer height', 560, 1750, { align: 'left', size: 20 });
text('Rel. Humidity (%): colored lines', 840, 1750, { align: 'left', size: 20 });
text('0°C: dashed line', 1212, 1750, { align: 'left', size: 20 });
text('Convective clouds', 1416, 1751, { align: 'left', size: 20 });
const stars = box(1602, 1744, 89, 13, 'border:1px solid #000;background:#fafafa;overflow:hidden;font-size:13px;line-height:11px;letter-spacing:1.4px;white-space:nowrap;');
stars.textContent = '★★★★★★★';
text('Cloud cover', 1796, 1751, { align: 'left', size: 20 });
box(1920, 1744, 89, 13, 'border:1px solid #333;background:repeating-linear-gradient(45deg,transparent 0 4px,#666 4px 5px),repeating-linear-gradient(-45deg,transparent 0 4px,#666 4px 5px);');

// ── Horizontal wind / Vertical wind shear ────
text('Horizontal wind / Vertical wind shear', 1124, 1813, { size: 24 });
const SPEED_EDGE = 'rgba(0,15,50,0.75)';
const speedFills = [
    [shearBase, '#6ca0e5'], [speed4Top, '#7fbef2'], [speed4Right, '#7fbef2'], [speed5Top, '#95dfbd'], [speed5Right, '#95dfbd'], [speed5Strip, '#95dfbd'],
    [speed6Top, '#b0e6a6'], [speed8Top, '#d8e490'], [speed2Corner, '#5680dd'], [speed1Corner, '#4560d2'],
    [speed2Low, '#5680dd'], [speed1Blob, '#4560d2'], [speed1Low, '#4560d2'], [speed2LowLeft, '#5680dd'], [speed3LowLeft, '#6ca0e5'], [speed2Center, '#5680dd'], [speed2Corner2, '#5680dd'],
    [speed05Left, '#3f42c8'], [speed05Small, '#3f42c8'], [speed05Mid, '#3f42c8'], [speed05Right, '#3f42c8'],
    [speed0Mid, '#7548c8'], [speed0Small, '#7548c8'], [speed0Thin, '#7548c8'], [speed0Bottom, '#7548c8'], [speed0Right, '#7548c8'],
];
const shearLines03 = [shearA, shearB, shearB2, shearC, shearD, shearD2, shearD3, shearE, shearE2, shearF, shearG];
const shearLines06 = [shear06A, shear06B, shear06C, shear06D, shear06E];
const arrowPoints = [];
const arrowBearings = [];
arrowLevels.forEach((level, row) => arrowHours.forEach((hour, col) => {
    arrowPoints.push({ x: hour, y: level });
    arrowBearings.push(arrowDirs[row][col]);
}));
panel(1830, 2463, { ...xScales(true), ...pressureAxes() }, [
    ...speedFills.map(([p, c]) => area(p, c, SPEED_EDGE)),
    { data: arrowPoints, showLine: false, pointRadius: 2, pointBorderWidth: 0,
        pointStyle: arrowSprite(25, 2, 7.5, 12, '#555555'), rotation: (ctx) => arrowBearings[ctx.dataIndex] },
    ...shearLines03.map((p) => curve(toPts(p), '#6fac2c', 4)),
    ...shearLines06.map((p) => curve(toPts(p), '#a8c832', 4)),
    nowLine(500, 935),
], PRESSURE_BOXES, [
    { list: speedLabels, color: '#000', size: 16 },
    { list: shear03Labels, color: '#8fb23a', size: 16 },
    { list: shear06Labels, color: '#b6cc3c', size: 16 },
]);
text('Altitude approx.', 121, 2147, { rot: -90, size: 24 });
text('Pressure (hPa)', 2069, 2147, { rot: -90, size: 24 });

text('Last update: 2026-08-14 11:31', 43, 2504, { align: 'left', color: '#888', size: 22 });
text('Wind speed (m/s)', 382, 2504, { align: 'left', size: 20 });
legendBar(594, 2493, 705, 19, speedClasses, ['#5220c4', '#1018c0', '#1838c8', '#3060d8', '#5680dd', '#5dade9', '#80d8b8', '#a0e090', '#d4e468'], 20);
text('Wind shear (m/s per 100 m)', 1355, 2504, { align: 'left', size: 20 });
legendBar(1654, 2493, 355, 19, shearClasses, ['#6aa832', '#a8c83c', '#f0e050', '#f0b050', '#ff3030'], 20);
</script>
</body>
</html>
